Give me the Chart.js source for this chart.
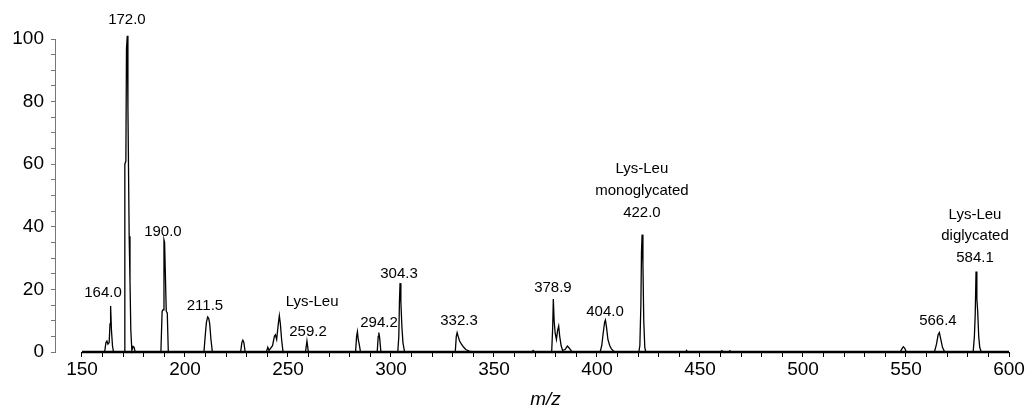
<!DOCTYPE html>
<html>
<head>
<meta charset="utf-8">
<script src="https://cdn.jsdelivr.net/npm/chart.js@4.4.0/dist/chart.umd.min.js"></script>
<style>
html,body{margin:0;padding:0;background:#fff;}
#wrap{width:1027px;height:415px;position:relative;}
</style>
</head>
<body>
<div id="wrap"><canvas id="c"></canvas></div>
<script>
// Spectrum (m/z vs relative intensity)
const spectrumMz = [
  150, 161.0, 161.6, 162.1, 162.6, 163.2, 163.6, 163.9, 164.3, 164.8, 165.3,
  170.5, 170.8, 171.3, 171.6, 172.0, 172.3, 172.9, 173.3, 173.7, 174.2, 174.8, 175.3, 175.8,
  188.3, 188.9, 189.4, 189.8, 190.1, 190.4, 190.9, 191.4, 191.9,
  209.2, 209.8, 210.4, 211.0, 211.5, 212.0, 212.6, 213.3,
  227.0, 227.6, 228.1, 228.6, 229.2,
  239.5, 240.2, 240.8, 242.5, 243.4, 243.9, 244.5, 245.3, 245.8, 246.3, 246.9, 247.6,
  258.5, 259.2, 259.9,
  282.8, 283.3, 283.7, 284.1, 284.7, 285.2,
  293.3, 293.8, 294.1, 294.5, 295.1,
  303.3, 303.8, 304.1, 304.4, 304.8, 305.3, 305.8, 306.6,
  331.2, 331.7, 332.1, 332.6, 333.3, 334.2, 335.3, 336.3, 338.0, 339.5,
  368.5, 369.0, 369.8,
  378.0, 378.5, 378.8, 379.2, 379.7, 380.3, 380.9, 381.4, 381.9, 382.6, 383.3, 384.5, 385.6, 386.6, 387.6, 388.5,
  401.5, 402.3, 403.0, 403.7, 404.1, 404.6, 405.3, 406.2, 407.0, 408.0, 409.0,
  420.3, 420.8, 421.3, 421.6, 421.9, 422.3, 422.7, 423.2, 423.7,
  443.0, 443.5, 444.0,
  460.0, 460.6, 461.2, 464.0, 464.5, 465.0,
  547.2, 548.0, 548.7, 549.4, 550.2,
  563.8, 564.8, 565.6, 566.2, 566.9, 567.7, 568.8,
  582.6, 583.2, 583.6, 584.0, 584.4, 584.8, 585.3, 585.8, 586.5,
  600
];
const spectrumIntensity = [
  0, 0, 3.0, 3.5, 2.5, 3.0, 9, 14.7, 7, 2, 0,
  0, 60, 61, 97, 101, 78, 37, 23, 7, 0.5, 1.8, 1.5, 0,
  0, 13, 13.5, 35.8, 35, 27, 13, 12.5, 0,
  0, 5, 9.5, 11.2, 10.8, 9, 4, 0,
  0, 3, 3.8, 3, 0,
  0, 1.5, 0.5, 2, 5, 5.5, 4, 9, 11.6, 9, 4, 0,
  0, 3.5, 0,
  0, 5, 6.5, 4, 2, 0,
  0, 5, 6.2, 4.5, 0,
  0, 5, 16, 22, 16, 8, 3, 0,
  0, 5, 6.2, 5, 3.5, 2.5, 1.5, 0.8, 0.3, 0,
  0, 0.5, 0,
  0, 8, 16.9, 10, 6, 4, 7, 8.3, 5, 2, 0.5, 0.8, 1.9, 1.2, 0.3, 0,
  0, 2, 6, 9.5, 10.2, 8, 4, 2, 1, 0.3, 0,
  0, 2, 15, 32, 37.5, 28, 10, 1.5, 0,
  0, 0.5, 0,
  0, 0.4, 0, 0, 0.4, 0,
  0, 1, 1.7, 1.2, 0,
  0, 2.5, 5.5, 6.2, 4, 1.5, 0,
  0, 5, 12, 25.7, 17, 13, 5, 1.5, 0,
  0
];
// Baseline of the spectrum (start and end m/z)
const baselineMz = [150, 600];
const baselineIntensity = [0, 0];

// Peak annotations: text, m/z position, intensity position
const labelText = ['172.0','164.0','190.0','211.5','Lys-Leu','259.2','294.2','304.3','332.3','378.9','404.0',
  'Lys-Leu','monoglycated','422.0','566.4','Lys-Leu','diglycated','584.1'];
const labelMz = [171.8,160.2,189.3,209.7,261.7,259.7,294.2,303.9,333.0,378.6,403.9,
  421.8,421.8,421.8,565.5,583.5,583.5,583.5];
const labelPos = [106.2,18.9,38.4,14.7,16.0,6.4,9.3,25.0,9.9,20.5,12.8,
  58.6,51.5,44.5,9.9,43.8,37.1,30.1];

// Axis ticks
const xTickValues = [150,160,170,180,190,200,210,220,230,240,250,260,270,280,290,300,310,320,330,340,350,
  360,370,380,390,400,410,420,430,440,450,460,470,480,490,500,510,520,530,540,550,560,570,580,590,600];
const xTickLabels = [150,200,250,300,350,400,450,500,550,600];
const yTickValues = [0,5,10,15,20,25,30,35,40,45,50,55,60,65,70,75,80,85,90,95,100];
const yTickLabels = [0,20,40,60,80,100];
const xTitle = 'm/z';

const FONT = "'Liberation Sans', Arial, Helvetica, sans-serif";

const points = spectrumMz.map((m, i) => ({x: m, y: spectrumIntensity[i]}));
const basePoints = baselineMz.map((m, i) => ({x: m, y: baselineIntensity[i]}));

const labelPlugin = {
  id: 'peakLabels',
  afterDatasetsDraw(chart) {
    const ctx = chart.ctx;
    const xs = chart.scales.x, ys = chart.scales.y;
    ctx.save();
    ctx.fillStyle = '#000';
    ctx.font = '15px ' + FONT;
    ctx.textAlign = 'center';
    ctx.textBaseline = 'middle';
    labelText.forEach((t, i) => {
      ctx.fillText(t, xs.getPixelForValue(labelMz[i]), ys.getPixelForValue(labelPos[i]));
    });
    ctx.font = 'italic 19px ' + FONT;
    ctx.fillText(xTitle, xs.getPixelForValue((xTickValues[0] + xTickValues[xTickValues.length-1]) / 2), 400);
    ctx.restore();
  }
};

new Chart(document.getElementById('c'), {
  type: 'line',
  data: {
    datasets: [{
      data: points,
      borderColor: '#000',
      borderWidth: 1.3,
      pointRadius: 0,
      tension: 0,
      fill: false,
      clip: false
    }, {
      data: basePoints,
      borderColor: '#000',
      borderWidth: 2.4,
      pointRadius: 0,
      tension: 0,
      fill: false,
      clip: false
    }]
  },
  options: {
    responsive: true,
    maintainAspectRatio: false,
    animation: false,
    events: [],
    layout: {padding: {top: 39, right: 18, left: 0, bottom: 0}},
    plugins: {legend: {display: false}, tooltip: {enabled: false}},
    scales: {
      x: {
        type: 'linear',
        min: 136.9,
        max: 600,
        border: {display: false},
        grid: {drawOnChartArea: false, drawTicks: true, tickLength: 5, color: '#000', lineWidth: 1},
        afterBuildTicks: s => { s.ticks = xTickValues.map(v => ({value: v})); },
        afterFit: s => { s.height = 63; },
        ticks: {
          autoSkip: false,
          maxRotation: 0,
          padding: 1,
          color: '#000',
          font: {family: FONT, size: 19},
          callback: v => xTickLabels.includes(v) ? String(v) : ''
        }
      },
      y: {
        min: 0,
        max: 100,
        border: {display: true, color: '#777', width: 1},
        grid: {drawOnChartArea: false, drawTicks: true, tickLength: 4, color: '#777'},
        afterBuildTicks: s => { s.ticks = yTickValues.map(v => ({value: v})); },
        afterFit: s => { s.width = 55; },
        ticks: {
          autoSkip: false,
          padding: 7,
          color: '#000',
          font: {family: FONT, size: 19},
          callback: v => yTickLabels.includes(v) ? String(v) : ''
        }
      }
    }
  },
  plugins: [labelPlugin]
});
</script>
</body>
</html>
